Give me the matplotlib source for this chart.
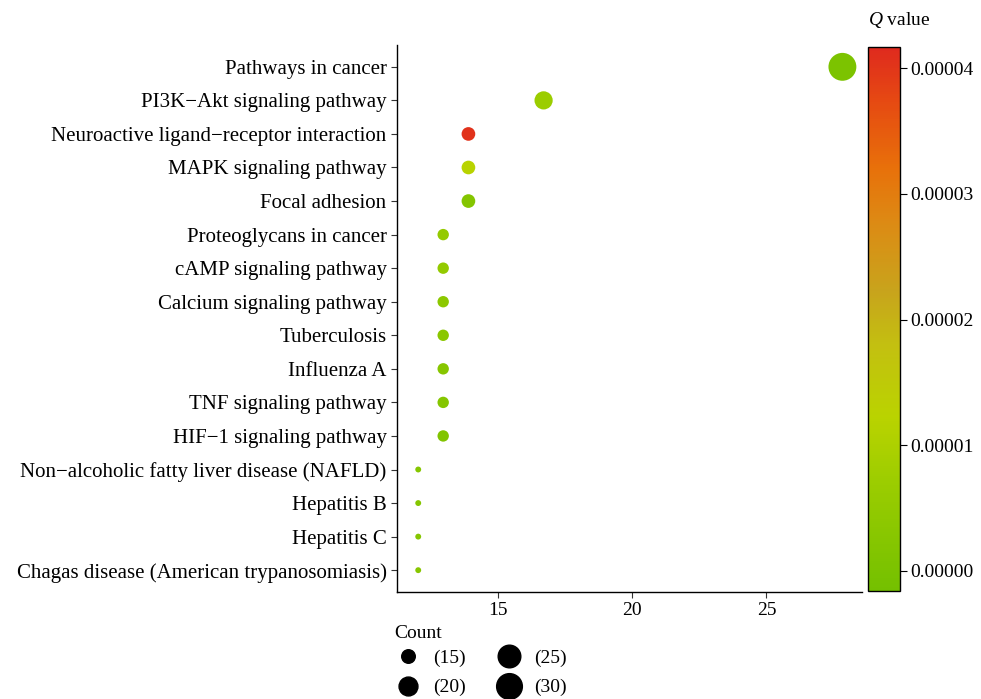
import numpy as np
import matplotlib
matplotlib.use("Agg")
import matplotlib.pyplot as plt
from matplotlib.colors import LinearSegmentedColormap, Normalize
from matplotlib.lines import Line2D

plt.rcParams['font.family'] = ['Liberation Serif', 'DejaVu Serif']
plt.rcParams['mathtext.fontset'] = 'custom'
plt.rcParams['mathtext.it'] = 'Liberation Serif:italic'
plt.rcParams['mathtext.rm'] = 'Liberation Serif'

pathways = [
    "Pathways in cancer",
    "PI3K\u2212Akt signaling pathway",
    "Neuroactive ligand\u2212receptor interaction",
    "MAPK signaling pathway",
    "Focal adhesion",
    "Proteoglycans in cancer",
    "cAMP signaling pathway",
    "Calcium signaling pathway",
    "Tuberculosis",
    "Influenza A",
    "TNF signaling pathway",
    "HIF\u22121 signaling pathway",
    "Non\u2212alcoholic fatty liver disease (NAFLD)",
    "Hepatitis B",
    "Hepatitis C",
    "Chagas disease (American trypanosomiasis)",
]
xvalues = [27.83, 16.70, 13.90, 13.90, 13.90, 12.96, 12.96, 12.96,
           12.96, 12.96, 12.96, 12.96, 12.03, 12.03, 12.03, 12.03]
counts = [28, 17, 14, 14, 14, 13, 13, 13, 13, 13, 13, 13, 12, 12, 12, 12]
qvalues = [2e-7, 7.0e-6, 4.06e-5, 1.2e-5, 2.0e-6, 5.5e-6, 5.0e-6, 3.5e-6,
           3.2e-6, 2.6e-6, 2.2e-6, 1.2e-6, 2.2e-6, 2.2e-6, 2.2e-6, 2.6e-6]
legend_counts = [15, 20, 25, 30]
cbar_ticks = [0, 1e-5, 2e-5, 3e-5, 4e-5]

cmap = LinearSegmentedColormap.from_list("qv", [
    (0.00, "#74c000"),
    (0.20, "#9ccd00"),
    (0.32, "#bad300"),
    (0.45, "#c3c010"),
    (0.55, "#c8a41c"),
    (0.68, "#dd8a14"),
    (0.78, "#e8700a"),
    (0.90, "#e64a12"),
    (1.00, "#df2a1e"),
])
norm = Normalize(vmin=-1.6e-6, vmax=4.17e-5)

cmin, cmax = min(counts), max(counts)


def dot_px(c):
    # ggplot-like area scale, size range 1..6 -> diameter in pixels
    sz = 1 + 5 * np.sqrt(max(c - cmin, 0) / (cmax - cmin))
    return 4.4 * sz + 1.5


fig = plt.figure(figsize=(9.81, 6.99), dpi=100)
ax = fig.add_axes([0.4047, 0.1531, 0.4740, 0.7825])

y = np.arange(len(pathways))[::-1] + 1
ax.scatter(xvalues, y, s=[(dot_px(c) * 0.72) ** 2 for c in counts], c=qvalues,
           cmap=cmap, norm=norm, edgecolors='none', zorder=3)

ax.set_yticks(y)
ax.set_yticklabels(pathways, fontsize=15)
ax.set_xticks([15, 20, 25])
ax.tick_params(axis='x', labelsize=14, length=4, color='#333333')
ax.tick_params(axis='y', length=4, color='#333333')
ax.set_xlim(11.24, 28.56)
ax.set_ylim(0.35, 16.65)
for s in ['top', 'right']:
    ax.spines[s].set_visible(False)
for s in ['left', 'bottom']:
    ax.spines[s].set_linewidth(1.0)

# colorbar
cax = fig.add_axes([0.8848, 0.1545, 0.0326, 0.7783])
sm = plt.cm.ScalarMappable(norm=norm, cmap=cmap)
cb = fig.colorbar(sm, cax=cax, ticks=cbar_ticks)
cb.ax.set_yticklabels(["%.5f" % t for t in cbar_ticks], fontsize=14)
cb.ax.tick_params(length=5, width=0.8, pad=2.5)
cb.outline.set_linewidth(1.0)
fig.text(0.885, 0.972, r"$\it{Q}$ value", ha='left', va='center', fontsize=14)

# size legend
handles = [Line2D([], [], ls='none', marker='o', color='black',
                  markersize=dot_px(c) * 0.88 * 0.72) for c in legend_counts]
labels = ["(%d)" % c for c in legend_counts]
leg = fig.legend(handles, labels, ncol=2, title="Count", loc='upper left',
                 bbox_to_anchor=(0.392, 0.120), frameon=False, fontsize=14,
                 title_fontsize=14, alignment='left', handletextpad=0.6,
                 columnspacing=1.5, labelspacing=0.62, borderpad=0.0,
                 handlelength=1.4)
leg._legend_box.sep = 5.2  # gap under the title

fig.savefig("out.png", dpi=100)
